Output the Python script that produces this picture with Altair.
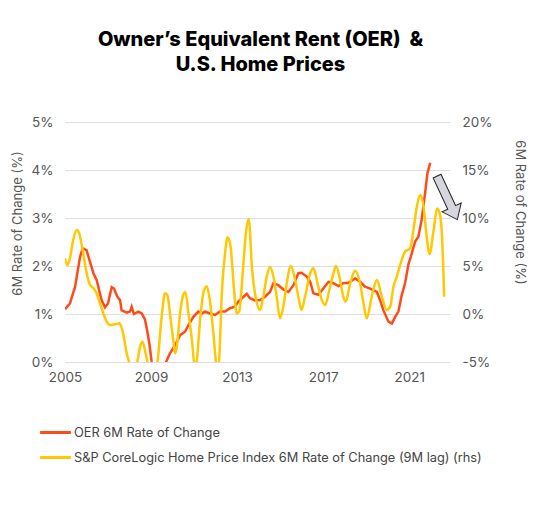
import altair as alt
import pandas as pd

# OER 6M rate of change (left axis, %)
oer_year = [
    2005.0, 2005.23, 2005.47, 2005.7, 2005.82, 2006.0, 2006.16, 2006.32, 2006.47, 2006.7,
    2006.86, 2007.0, 2007.17, 2007.28, 2007.43, 2007.56, 2007.63, 2007.87, 2008.02, 2008.1,
    2008.2, 2008.41, 2008.57, 2008.72, 2008.83, 2008.92, 2009.03, 2009.2, 2009.4, 2009.55,
    2009.7, 2009.88, 2010.12, 2010.35, 2010.58, 2010.74, 2010.97, 2011.2, 2011.36, 2011.5,
    2011.74, 2011.98, 2012.2, 2012.44, 2012.67, 2012.9, 2013.06, 2013.3, 2013.45, 2013.6,
    2013.84, 2014.07, 2014.3, 2014.53, 2014.69, 2014.92, 2015.15, 2015.39, 2015.62, 2015.85,
    2016.0, 2016.24, 2016.4, 2016.55, 2016.78, 2017.01, 2017.25, 2017.48, 2017.71, 2017.94,
    2018.18, 2018.49, 2018.72, 2018.95, 2019.19, 2019.5, 2019.65, 2019.8, 2020.04, 2020.2,
    2020.35, 2020.5, 2020.66, 2020.81, 2020.97, 2021.12, 2021.28, 2021.43, 2021.58, 2021.74,
    2021.85, 2021.98,
]
oer_value = [
    1.10, 1.22, 1.57, 2.19, 2.37, 2.33, 2.09, 1.85, 1.71, 1.29,
    1.14, 1.22, 1.56, 1.53, 1.36, 1.29, 1.08, 1.03, 1.05, 1.15,
    1.00, 1.05, 1.01, 0.88, 0.63, 0.39, 0.00, -0.30, -0.40, -0.20,
    0.00, 0.18, 0.35, 0.56, 0.63, 0.77, 0.94, 1.05, 1.01, 1.05,
    1.01, 0.98, 1.05, 1.05, 1.12, 1.15, 1.26, 1.36, 1.42, 1.33,
    1.28, 1.29, 1.36, 1.46, 1.64, 1.60, 1.51, 1.46, 1.60, 1.85,
    1.86, 1.78, 1.67, 1.43, 1.40, 1.53, 1.67, 1.64, 1.58, 1.64,
    1.65, 1.74, 1.67, 1.57, 1.53, 1.46, 1.29, 1.08, 0.84, 0.80,
    0.94, 1.05, 1.40, 1.64, 2.04, 2.26, 2.51, 2.61, 2.96, 3.51,
    3.93, 4.15,
]

# S&P CoreLogic HPI 6M rate of change, 9M lag (right axis, %)
hpi_year = [
    2005.0, 2005.1, 2005.23, 2005.38, 2005.54, 2005.66, 2005.82, 2005.98, 2006.13, 2006.32,
    2006.47, 2006.63, 2006.78, 2006.94, 2007.09, 2007.33, 2007.53, 2007.64, 2007.76, 2007.87,
    2007.98, 2008.15, 2008.36, 2008.49, 2008.6, 2008.75, 2008.83, 2009.05, 2009.3, 2009.51,
    2009.65, 2009.76, 2009.88, 2010.03, 2010.12, 2010.2, 2010.35, 2010.5, 2010.6, 2010.74,
    2010.9, 2011.0, 2011.06, 2011.12, 2011.28, 2011.43, 2011.59, 2011.71, 2011.9, 2012.02,
    2012.1, 2012.16, 2012.3, 2012.44, 2012.56, 2012.7, 2012.85, 2012.98, 2013.1, 2013.26,
    2013.41, 2013.54, 2013.7, 2013.86, 2014.07, 2014.22, 2014.38, 2014.53, 2014.69, 2014.84,
    2015.0, 2015.15, 2015.31, 2015.5, 2015.7, 2015.85, 2016.0, 2016.16, 2016.4, 2016.55,
    2016.74, 2016.94, 2017.1, 2017.29, 2017.48, 2017.6, 2017.79, 2017.94, 2018.05, 2018.26,
    2018.49, 2018.72, 2018.88, 2019.03, 2019.26, 2019.5, 2019.73, 2019.96, 2020.12, 2020.27,
    2020.43, 2020.58, 2020.81, 2021.05, 2021.2, 2021.36, 2021.51, 2021.67, 2021.8, 2021.95,
    2022.14, 2022.3, 2022.42, 2022.53, 2022.63,
]
hpi_value = [
    5.8, 5.1, 5.8, 7.7, 8.75, 8.4, 6.67, 4.58, 3.2, 2.68,
    2.16, 1.1, 0.07, -0.8, -1.15, -1.07, -0.97, -1.5, -2.7, -4.1,
    -5.0, -6.5, -5.0, -3.4, -2.9, -4.1, -5.0, -7.0, -5.0, 0.07,
    2.16, 1.98, 0.07, -2.7, -4.1, -3.4, 0.07, 2.0, 2.3, 0.07,
    -2.7, -5.0, -5.5, -5.0, -0.63, 2.16, 2.9, 1.8, -2.0, -5.0,
    -5.8, -5.0, 2.5, 6.3, 8.0, 7.0, 2.8, 0.07, 0.24, 4.2,
    8.4, 9.9, 4.6, 1.8, 0.42, 1.8, 3.9, 4.9, 3.9, 1.8,
    -0.45, 0.76, 3.2, 5.0, 3.54, 1.8, 0.42, 1.8, 4.24, 4.76,
    3.2, 1.46, 0.94, 2.5, 4.24, 5.0, 3.54, 1.8, 1.28, 3.2,
    4.5, 3.2, 1.1, -0.45, 1.8, 3.54, 1.8, 0.42, 0.76, 2.84,
    3.9, 5.1, 6.5, 6.84, 8.75, 11.2, 12.4, 11.2, 8.4, 6.25,
    8.75, 11.0, 10.5, 8.05, 1.8,
]

series_names = [
    'OER 6M Rate of Change',
    'S&P CoreLogic Home Price Index 6M Rate of Change (9M lag) (rhs)',
]
series_colors = ['#ff4b19', '#ffc800']

left_ticks = [0, 1, 2, 3, 4, 5]
right_ticks = [-5, 0, 5, 10, 15, 20]
year_ticks = [2005, 2009, 2013, 2017, 2021]

# arrow annotation position (year, left-axis value)
arrow_year = [2022.77]
arrow_value = [3.42]

FONT = 'Inter'
ARROW_PATH = 'M-0.18,-1 L0.18,-1 L0.18,0.44 L0.44,0.44 L0,1 L-0.44,0.44 L-0.18,0.44 Z'
LEGEND_LINE = 'M-1.4,0 L1.4,0'

oer_df = pd.DataFrame({'year': oer_year, 'value': oer_value, 'series': series_names[0]})
hpi_df = pd.DataFrame({'year': hpi_year, 'value': hpi_value, 'series': series_names[1]})
arrow_df = pd.DataFrame({'year': arrow_year, 'value': arrow_value})

x_enc = alt.X(
    'year:Q',
    scale=alt.Scale(domain=[2005, 2022.9], nice=False, zero=False),
    axis=alt.Axis(values=year_ticks, format='d', title=None, grid=False,
                  labelPadding=8, labelFlush=False),
)
color_enc = alt.Color(
    'series:N',
    scale=alt.Scale(domain=series_names, range=series_colors),
    legend=alt.Legend(
        title=None,
        orient='none',
        legendX=-22,
        legendY=298,
        symbolType=LEGEND_LINE,
        symbolSize=484,
        symbolStrokeWidth=3,
        symbolFillColor='transparent',
        labelFontSize=12.8,
        labelColor='#444',
        labelFont=FONT,
        rowPadding=5,
        labelOffset=6,
        labelLimit=500,
    ),
)

left_axis = alt.Axis(
    values=left_ticks,
    labelExpr="datum.value + '%'",
    title='6M Rate of Change (%)',
    orient='left',
    grid=True,
    gridColor='#dddddd',
    labelPadding=12,
    titleAngle=-90,
    titleX=-44,
    titleY=101,
    titleBaseline='alphabetic',
)
right_axis = alt.Axis(
    values=right_ticks,
    labelExpr="datum.value + '%'",
    title='6M Rate of Change (%)',
    orient='right',
    grid=False,
    labelPadding=12,
    titleAngle=90,
    titleX=65,
    titleY=90,
    titleBaseline='alphabetic',
)

oer_line = alt.Chart(oer_df).mark_line(strokeWidth=2.5, clip=True).encode(
    x=x_enc,
    y=alt.Y('value:Q', scale=alt.Scale(domain=[0, 5], nice=False), axis=left_axis),
    color=color_enc,
)
arrow = alt.Chart(arrow_df).mark_point(
    shape=ARROW_PATH, size=2300, angle=335, filled=True,
    fill='#d6d6de', fillOpacity=1, stroke='#222222', strokeWidth=1, opacity=1,
).encode(
    x='year:Q',
    y=alt.Y('value:Q', scale=alt.Scale(domain=[0, 5], nice=False), axis=left_axis),
)
left = alt.layer(oer_line, arrow)

hpi_line = alt.Chart(hpi_df).mark_line(strokeWidth=2.5, clip=True, interpolate='monotone').encode(
    x=x_enc,
    y=alt.Y('value:Q', scale=alt.Scale(domain=[-5, 20], nice=False), axis=right_axis),
    color=color_enc,
)

chart = alt.layer(left, hpi_line).resolve_scale(y='independent').properties(
    width=385,
    height=240,
    autosize=alt.AutoSizeParams(type='none'),
    padding={'left': 57, 'top': 114, 'right': 84, 'bottom': 120},
    title=alt.TitleParams(
        text=['Owner\u2019s Equivalent Rent (OER)\u00a0 &', 'U.S. Home Prices'],
        font=FONT,
        fontSize=20,
        fontWeight=800,
        color='#000000',
        anchor='middle',
        lineHeight=25,
        offset=40,
        dx=3,
    ),
).configure_view(stroke=None).configure_axis(
    domain=False,
    ticks=False,
    labelFont=FONT,
    labelFontSize=13.5,
    labelColor='#555555',
    titleFont=FONT,
    titleFontSize=13,
    titleFontWeight='normal',
    titleColor='#555555',
)

chart.save('out.html', embed_options={'renderer': 'svg', 'actions': False})
